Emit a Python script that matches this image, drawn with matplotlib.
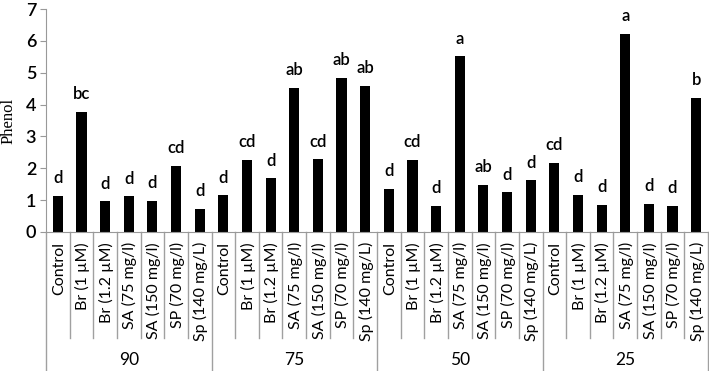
import matplotlib.pyplot as plt
import numpy as np

# data
groups = ['90', '75', '50', '25']
treatments = ['Control', 'Br (1 µM)', 'Br (1.2 µM)', 'SA (75 mg/l)',
              'SA (150 mg/l)', 'SP (70 mg/l)', 'Sp (140 mg/L)']
phenol = [
    [1.13, 3.77, 0.96, 1.12, 0.97, 2.07, 0.72],
    [1.15, 2.26, 1.68, 4.53, 2.28, 4.84, 4.59],
    [1.35, 2.27, 0.82, 5.51, 1.47, 1.24, 1.62],
    [2.18, 1.16, 0.85, 6.23, 0.88, 0.83, 4.20],
]
letters = [
    ['d', 'bc', 'd', 'd', 'd', 'cd', 'd'],
    ['d', 'cd', 'd', 'ab', 'cd', 'ab', 'ab'],
    ['d', 'cd', 'd', 'a', 'ab', 'd', 'd'],
    ['cd', 'd', 'd', 'a', 'd', 'd', 'b'],
]

values = [v for g in phenol for v in g]
labels = [l for g in letters for l in g]
n = len(values)
nt = len(treatments)
x = np.arange(n)

plt.rcParams['font.family'] = ['Lato', 'DejaVu Sans']
fig = plt.figure(figsize=(7.09, 3.71), dpi=100)
ax = fig.add_axes([46 / 709, 1 - 232 / 371, 662 / 709, 223 / 371])

ax.bar(x, values, width=0.43, color='black')
for xi, v, l in zip(x, values, labels):
    ax.annotate(l, (xi, v), xytext=(0, 7), textcoords='offset points',
                ha='center', va='bottom', fontsize=12, fontweight='semibold')

ax.set_xlim(-0.5, n - 0.5)
ax.set_ylim(0, 7)
ax.set_yticks(range(8))
ax.tick_params(axis='y', labelsize=13, length=4, color='#999999', pad=3)
for t in ax.get_yticklabels():
    t.set_fontweight('semibold')
ax.set_xticks([])
for s in ['top', 'right']:
    ax.spines[s].set_visible(False)
ax.spines['left'].set_color('#999999')
ax.spines['bottom'].set_color('#999999')
ax.set_ylabel('Phenol', family='Liberation Serif', fontsize=12)
ax.yaxis.set_label_coords(-29 / 662, 0.5)

# two-level category axis drawn below the plot
trans = ax.get_xaxis_transform()
short = -(338 - 232) / 223
full = -(371 - 232) / 223
for b in range(n + 1):
    y_end = full if b % nt == 0 else short
    ax.plot([b - 0.5, b - 0.5], [0, y_end], transform=trans, color='#a0a0a0',
            lw=1, clip_on=False)
for i in range(n):
    ax.text(x[i] + 0.05, -(242 - 232) / 223, treatments[i % nt], transform=trans,
            rotation=90, ha='center', va='top', fontsize=11.5)
for gi, g in enumerate(groups):
    ax.text(gi * nt + (nt - 1) / 2, -(360 - 232) / 223, g, transform=trans,
            ha='center', va='center', fontsize=12.5)

fig.savefig('out.png', dpi=100)
